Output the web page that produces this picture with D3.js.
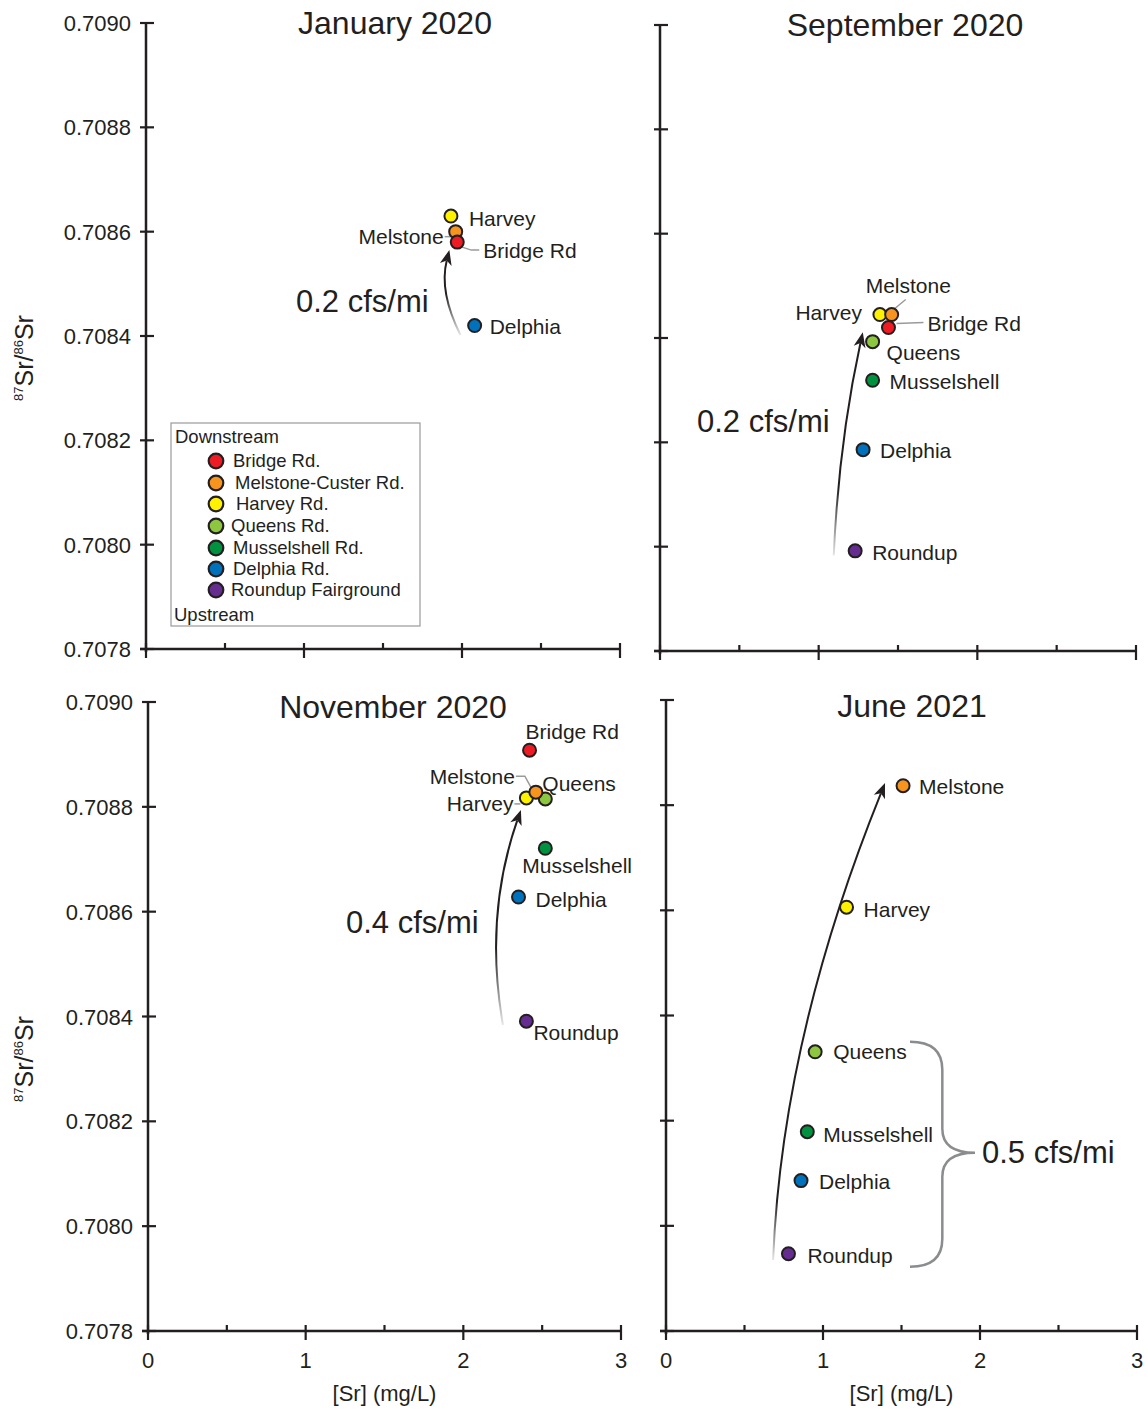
<!DOCTYPE html>
<html><head><meta charset="utf-8">
<script src="https://cdn.jsdelivr.net/npm/d3@7"></script>
<style>
body{margin:0;background:#fff}
svg{display:block}
text{font-family:"Liberation Sans",Arial,Helvetica,sans-serif;fill:#231f20}
</style>
</head><body>
<svg id="chart" width="1147" height="1412"></svg>
<script>
// ---------------- DATA ----------------
const yTicks = [0.7078, 0.7080, 0.7082, 0.7084, 0.7086, 0.7088, 0.7090];
const yTickLabels = ["0.7078", "0.7080", "0.7082", "0.7084", "0.7086", "0.7088", "0.7090"];
const xTicks = [0, 0.5, 1, 1.5, 2, 2.5, 3];
const xTickLabels = ["0", "", "1", "", "2", "", "3"];

const sites = ["Bridge Rd.", "Melstone-Custer Rd.", "Harvey Rd.", "Queens Rd.", "Musselshell Rd.", "Delphia Rd.", "Roundup Fairground"];
const siteShort = ["Bridge Rd", "Melstone", "Harvey", "Queens", "Musselshell", "Delphia", "Roundup"];
const siteColors = ["#ed1c24", "#f7941d", "#fff200", "#8dc63f", "#00923f", "#0072bc", "#662d91"];

// [site index, [Sr] mg/L, 87Sr/86Sr]  (drawing order)
const jan2020 = [[5, 2.08, 0.70842], [2, 1.93, 0.70863], [1, 1.96, 0.70860], [0, 1.97, 0.70858]];
const sep2020 = [[6, 1.23, 0.707992], [5, 1.28, 0.708186], [4, 1.34, 0.708319], [3, 1.34, 0.708393],
                 [2, 1.386, 0.708445], [1, 1.46, 0.708445], [0, 1.44, 0.70842]];
const nov2020 = [[6, 2.40, 0.708391], [5, 2.35, 0.708628], [4, 2.52, 0.708721], [3, 2.52, 0.708815],
                 [2, 2.40, 0.708817], [1, 2.46, 0.708828], [0, 2.42, 0.708908]];
const jun2021 = [[6, 0.78, 0.707947], [5, 0.86, 0.708086], [4, 0.90, 0.708179], [3, 0.95, 0.708331],
                 [2, 1.15, 0.708606], [1, 1.51, 0.708837]];

// gaining-flow annotations
const flowLabels = ["0.2 cfs/mi", "0.2 cfs/mi", "0.4 cfs/mi", "0.5 cfs/mi"];
// arrows: [start, control, end] in data coordinates
const arrows = [
  [[1.99, 0.708402], [1.854, 0.708484], [1.92, 0.708565]],
  [[1.095, 0.707983], [1.127, 0.708200], [1.278, 0.708411]],
  [[2.251, 0.708384], [2.131, 0.708592], [2.365, 0.708794]],
  [[0.682, 0.707935], [0.739, 0.708357], [1.395, 0.708842]]
];
// brace in June 2021 panel: open x, spine x, tip x, top, middle, bottom (data coords)
const brace = [1.554, 1.76, 1.968, 0.70835, 0.708139, 0.707922];

// ---------------- LAYOUT ----------------
const panels = [
  {title: "January 2020", data: jan2020, left: 146, right: 620, top: 23, bottom: 649, titleX: 395, titleY: 34,
   yLabels: true, xLabels: false, flowX: 296, flowY: 312, fade: 0.5, yTitleY: 358},
  {title: "September 2020", data: sep2020, left: 660, right: 1136, top: 25, bottom: 651, titleX: 905, titleY: 36,
   yLabels: false, xLabels: false, flowX: 697, flowY: 432, fade: 0.3},
  {title: "November 2020", data: nov2020, left: 148, right: 621, top: 702, bottom: 1331, titleX: 393, titleY: 718,
   yLabels: true, xLabels: true, flowX: 346, flowY: 933, fade: 0.35, yTitleY: 1059},
  {title: "June 2021", data: jun2021, left: 666, right: 1137, top: 700, bottom: 1331, titleX: 912, titleY: 717,
   yLabels: false, xLabels: true, flowX: 982, flowY: 1163, fade: 0.12}
];
// label placement per panel: site index -> [dx, dy, anchor, leader points]
const labelLayout = [
  {2: [18, 10, "start"], 1: [-12, 12, "end", [[-11, 5], [-3, 5]]], 0: [26, 16, "start", [[5, 5], [14, 8], [22, 8]]], 5: [15, 8, "start"]},
  {6: [17, 9, "start"], 5: [17, 8, "start"], 4: [17, 9, "start"], 3: [14, 18, "start"], 2: [-18, 5, "end"],
   1: [-26, -22, "start", [[2, -5], [14, -15]]], 0: [39, 3, "start", [[8, -4], [35, -5]]]},
  {6: [7, 19, "start"], 5: [17, 10, "start"], 4: [-23, 25, "start"], 3: [-3, -8, "start"],
   2: [-13, 13, "end", [[-12, 6], [-6, 6]]], 1: [-21, -8, "end", [[-20, -16], [-11, -16], [-5, -5]]], 0: [-4, -11, "start"]},
  {6: [19, 9, "start"], 5: [18, 8, "start"], 4: [16, 10, "start"], 3: [18, 7, "start"], 2: [17, 10, "start"], 1: [16, 8, "start"]}
];

const ink = "#231f20";
const svg = d3.select("#chart");
const defs = svg.append("defs");

panels.forEach((p, pi) => {
  const x = d3.scaleLinear().domain([0, 3]).range([p.left, p.right]);
  const y = d3.scaleLinear().domain([0.7078, 0.7090]).range([p.bottom, p.top]);
  const g = svg.append("g");

  // axes
  g.append("line").attr("x1", x(0)).attr("x2", x(0)).attr("y1", y(0.7090)).attr("y2", y(0.7078) + 3)
    .attr("stroke", ink).attr("stroke-width", 2.5);
  g.append("line").attr("x1", x(0) - 6).attr("x2", x(3) + 1).attr("y1", y(0.7078)).attr("y2", y(0.7078))
    .attr("stroke", ink).attr("stroke-width", 2.5);
  yTicks.forEach((t, i) => {
    g.append("line").attr("x1", x(0) - 6).attr("x2", x(0) + 8).attr("y1", y(t)).attr("y2", y(t))
      .attr("stroke", ink).attr("stroke-width", 2.2);
    if (p.yLabels) g.append("text").attr("x", x(0) - 15).attr("y", y(t) + 8).attr("text-anchor", "end")
      .attr("font-size", 22).text(yTickLabels[i]);
  });
  xTicks.forEach((t, i) => {
    const major = Number.isInteger(t);
    g.append("line").attr("x1", x(t)).attr("x2", x(t)).attr("y1", y(0.7078) - 6).attr("y2", y(0.7078) + (major ? 9 : 0))
      .attr("stroke", ink).attr("stroke-width", 2.2);
    if (p.xLabels && xTickLabels[i]) g.append("text").attr("x", x(t)).attr("y", y(0.7078) + 37)
      .attr("text-anchor", "middle").attr("font-size", 22).text(xTickLabels[i]);
  });
  if (p.xLabels) g.append("text").attr("x", (x(0) + x(3)) / 2).attr("y", 1401).attr("text-anchor", "middle")
    .attr("font-size", 22).text("[Sr] (mg/L)");
  if (p.yLabels) {
    const t = g.append("text").attr("transform", `translate(33,${p.yTitleY}) rotate(-90)`).attr("text-anchor", "middle")
      .attr("font-size", 25);
    t.append("tspan").attr("font-size", 13).attr("dy", -10).text("87");
    t.append("tspan").attr("dy", 10).text("Sr/");
    t.append("tspan").attr("font-size", 13).attr("dy", -10).text("86");
    t.append("tspan").attr("dy", 10).text("Sr");
  }

  // title
  g.append("text").attr("x", p.titleX).attr("y", p.titleY).attr("text-anchor", "middle")
    .attr("font-size", 32).text(p.title);

  // arrow
  const a = arrows[pi];
  const s = [x(a[0][0]), y(a[0][1])], c = [x(a[1][0]), y(a[1][1])], e = [x(a[2][0]), y(a[2][1])];
  const gid = "grad" + pi;
  const grad = defs.append("linearGradient").attr("id", gid).attr("gradientUnits", "userSpaceOnUse")
    .attr("x1", s[0]).attr("y1", s[1]).attr("x2", e[0]).attr("y2", e[1]);
  grad.append("stop").attr("offset", 0).attr("stop-color", "#e6e6e6");
  grad.append("stop").attr("offset", p.fade).attr("stop-color", ink);
  grad.append("stop").attr("offset", 1).attr("stop-color", ink);
  const ang = Math.atan2(e[1] - c[1], e[0] - c[0]);
  const headLen = 15;
  const shaftEnd = [e[0] - Math.cos(ang) * (headLen - 4), e[1] - Math.sin(ang) * (headLen - 4)];
  const path = d3.path();
  path.moveTo(s[0], s[1]);
  path.quadraticCurveTo(c[0], c[1], shaftEnd[0], shaftEnd[1]);
  g.append("path").attr("d", path.toString()).attr("fill", "none").attr("stroke", `url(#${gid})`).attr("stroke-width", 2);
  const rot = (dx, dy) => [e[0] + dx * Math.cos(ang) - dy * Math.sin(ang), e[1] + dx * Math.sin(ang) + dy * Math.cos(ang)];
  const head = [rot(0, 0), rot(-headLen, -6), rot(-headLen + 4, 0), rot(-headLen, 6)];
  g.append("path").attr("d", "M" + head.map(q => q.join(",")).join("L") + "Z").attr("fill", ink);

  // flow label
  g.append("text").attr("x", p.flowX).attr("y", p.flowY).attr("font-size", 31).text(flowLabels[pi]);

  // brace (June 2021)
  if (pi === 3) {
    const x0 = x(brace[0]), xm = x(brace[1]), xt = x(brace[2]);
    const yT = y(brace[3]), yM = y(brace[4]), yB = y(brace[5]);
    const r = 28;
    const bp = d3.path();
    bp.moveTo(x0, yT);
    bp.quadraticCurveTo(xm, yT, xm, yT + r);
    bp.lineTo(xm, yM - r + 4);
    bp.quadraticCurveTo(xm, yM, xt, yM);
    bp.quadraticCurveTo(xm, yM, xm, yM + r - 4);
    bp.lineTo(xm, yB - r);
    bp.quadraticCurveTo(xm, yB, x0, yB);
    g.append("path").attr("d", bp.toString()).attr("fill", "none").attr("stroke", "#8a8c8e").attr("stroke-width", 2.5);
  }

  // leader lines + labels
  const lay = labelLayout[pi];
  p.data.forEach(d => {
    const L = lay[d[0]];
    const px = x(d[1]), py = y(d[2]);
    if (L && L[3]) {
      g.append("path").attr("d", d3.line()(L[3].map(q => [px + q[0], py + q[1]])))
        .attr("fill", "none").attr("stroke", "#9a9a9a").attr("stroke-width", 1.5);
    }
  });
  g.selectAll("circle.pt").data(p.data).join("circle")
    .attr("cx", d => x(d[1])).attr("cy", d => y(d[2])).attr("r", 6.5)
    .attr("fill", d => siteColors[d[0]]).attr("stroke", ink).attr("stroke-width", 2);
  p.data.forEach(d => {
    const L = lay[d[0]];
    g.append("text").attr("x", x(d[1]) + L[0]).attr("y", y(d[2]) + L[1]).attr("text-anchor", L[2])
      .attr("font-size", 21).text(siteShort[d[0]]);
  });

  // legend (January 2020 panel)
  if (pi === 0) {
    const lg = g.append("g");
    lg.append("rect").attr("x", 171).attr("y", 423).attr("width", 249).attr("height", 203)
      .attr("fill", "#fff").attr("stroke", "#9a9a9a").attr("stroke-width", 1.2);
    lg.append("text").attr("x", 175).attr("y", 443).attr("font-size", 18.5).text("Downstream");
    const rowY = [461, 483, 504, 526, 548, 569, 590];
    const textX = [233, 235, 236, 231, 233, 233, 231];
    sites.forEach((sname, i) => {
      lg.append("circle").attr("cx", 216).attr("cy", rowY[i]).attr("r", 7.3)
        .attr("fill", siteColors[i]).attr("stroke", ink).attr("stroke-width", 2.2);
      lg.append("text").attr("x", textX[i]).attr("y", rowY[i] + 6).attr("font-size", 18.5).text(sname);
    });
    lg.append("text").attr("x", 174).attr("y", 621).attr("font-size", 18.5).text("Upstream");
  }
});
</script>
</body></html>
